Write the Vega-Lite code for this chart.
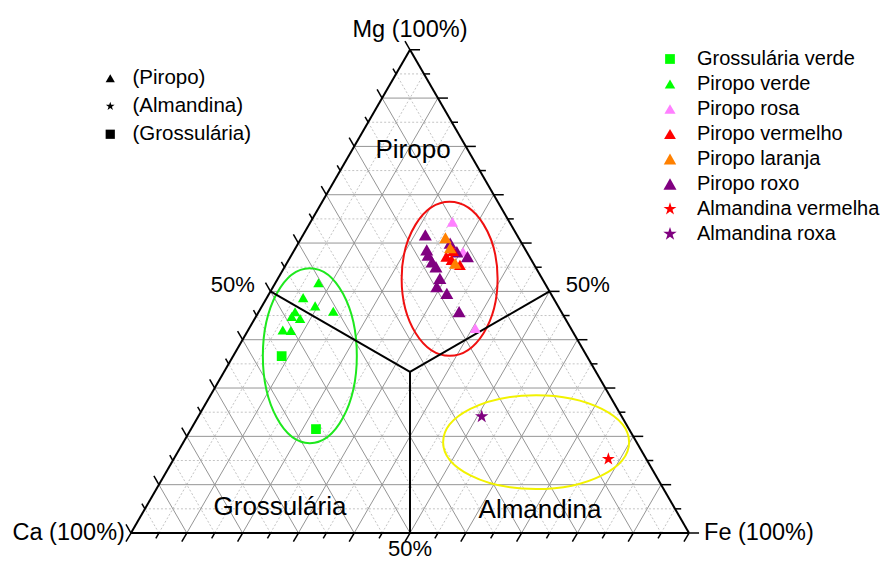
{
  "$schema": "https://vega.github.io/schema/vega-lite/v6.json",
  "width": 884,
  "height": 562,
  "autosize": {"type": "none"},
  "padding": 0,
  "background": "white",
  "config": {
    "view": {"stroke": null},
    "font": "Liberation Sans",
    "axis": {"disable": true}
  },
  "datasets": {
    "grade": [
      {"c": "Mg", "v": 0}, {"c": "Mg", "v": 5}, {"c": "Mg", "v": 10}, {"c": "Mg", "v": 15}, {"c": "Mg", "v": 20}, {"c": "Mg", "v": 25}, {"c": "Mg", "v": 30}, {"c": "Mg", "v": 35}, {"c": "Mg", "v": 40}, {"c": "Mg", "v": 45}, {"c": "Mg", "v": 50}, {"c": "Mg", "v": 55}, {"c": "Mg", "v": 60}, {"c": "Mg", "v": 65}, {"c": "Mg", "v": 70}, {"c": "Mg", "v": 75}, {"c": "Mg", "v": 80}, {"c": "Mg", "v": 85}, {"c": "Mg", "v": 90}, {"c": "Mg", "v": 95}, {"c": "Mg", "v": 100},
      {"c": "Fe", "v": 0}, {"c": "Fe", "v": 5}, {"c": "Fe", "v": 10}, {"c": "Fe", "v": 15}, {"c": "Fe", "v": 20}, {"c": "Fe", "v": 25}, {"c": "Fe", "v": 30}, {"c": "Fe", "v": 35}, {"c": "Fe", "v": 40}, {"c": "Fe", "v": 45}, {"c": "Fe", "v": 50}, {"c": "Fe", "v": 55}, {"c": "Fe", "v": 60}, {"c": "Fe", "v": 65}, {"c": "Fe", "v": 70}, {"c": "Fe", "v": 75}, {"c": "Fe", "v": 80}, {"c": "Fe", "v": 85}, {"c": "Fe", "v": 90}, {"c": "Fe", "v": 95}, {"c": "Fe", "v": 100},
      {"c": "Ca", "v": 0}, {"c": "Ca", "v": 5}, {"c": "Ca", "v": 10}, {"c": "Ca", "v": 15}, {"c": "Ca", "v": 20}, {"c": "Ca", "v": 25}, {"c": "Ca", "v": 30}, {"c": "Ca", "v": 35}, {"c": "Ca", "v": 40}, {"c": "Ca", "v": 45}, {"c": "Ca", "v": 50}, {"c": "Ca", "v": 55}, {"c": "Ca", "v": 60}, {"c": "Ca", "v": 65}, {"c": "Ca", "v": 70}, {"c": "Ca", "v": 75}, {"c": "Ca", "v": 80}, {"c": "Ca", "v": 85}, {"c": "Ca", "v": 90}, {"c": "Ca", "v": 95}, {"c": "Ca", "v": 100}
    ],
    "limites": [
      {"Mg1": 50, "Fe1": 0, "Mg2": 33.333, "Fe2": 33.333},
      {"Mg1": 50, "Fe1": 50, "Mg2": 33.333, "Fe2": 33.333},
      {"Mg1": 0, "Fe1": 50, "Mg2": 33.333, "Fe2": 33.333}
    ],
    "campos": [
      {"grupo": "Grossulária", "Mg": 36.7, "Fe": 13.7},
      {"grupo": "Piropo", "Mg": 52.6, "Fe": 30.8},
      {"grupo": "Almandina", "Mg": 18.8, "Fe": 63.2}
    ],
    "amostras": [
      {"serie": "Piropo verde", "tipo": "(Piropo)", "Mg": 51.8, "Fe": 7.7, "Ca": 40.5},
      {"serie": "Piropo verde", "tipo": "(Piropo)", "Mg": 48.7, "Fe": 6.5, "Ca": 44.8},
      {"serie": "Piropo verde", "tipo": "(Piropo)", "Mg": 47.0, "Fe": 9.5, "Ca": 43.5},
      {"serie": "Piropo verde", "tipo": "(Piropo)", "Mg": 45.9, "Fe": 13.3, "Ca": 40.8},
      {"serie": "Piropo verde", "tipo": "(Piropo)", "Mg": 45.8, "Fe": 6.5, "Ca": 47.7},
      {"serie": "Piropo verde", "tipo": "(Piropo)", "Mg": 44.4, "Fe": 8.1, "Ca": 47.5},
      {"serie": "Piropo verde", "tipo": "(Piropo)", "Mg": 44.8, "Fe": 6.4, "Ca": 48.8},
      {"serie": "Piropo verde", "tipo": "(Piropo)", "Mg": 42.0, "Fe": 6.2, "Ca": 51.8},
      {"serie": "Piropo verde", "tipo": "(Piropo)", "Mg": 41.9, "Fe": 7.7, "Ca": 50.4},
      {"serie": "Piropo rosa", "tipo": "(Piropo)", "Mg": 64.4, "Fe": 25.4, "Ca": 10.2},
      {"serie": "Piropo rosa", "tipo": "(Piropo)", "Mg": 58.2, "Fe": 30.4, "Ca": 11.4},
      {"serie": "Piropo rosa", "tipo": "(Piropo)", "Mg": 42.4, "Fe": 40.5, "Ca": 17.1},
      {"serie": "Piropo roxo", "tipo": "(Piropo)", "Mg": 61.7, "Fe": 21.9, "Ca": 16.4},
      {"serie": "Piropo roxo", "tipo": "(Piropo)", "Mg": 58.6, "Fe": 23.7, "Ca": 17.7},
      {"serie": "Piropo roxo", "tipo": "(Piropo)", "Mg": 57.5, "Fe": 24.5, "Ca": 18.0},
      {"serie": "Piropo roxo", "tipo": "(Piropo)", "Mg": 58.2, "Fe": 29.3, "Ca": 12.5},
      {"serie": "Piropo roxo", "tipo": "(Piropo)", "Mg": 57.2, "Fe": 31.7, "Ca": 11.1},
      {"serie": "Piropo roxo", "tipo": "(Piropo)", "Mg": 55.1, "Fe": 27.1, "Ca": 17.8},
      {"serie": "Piropo roxo", "tipo": "(Piropo)", "Mg": 52.7, "Fe": 29.0, "Ca": 18.3},
      {"serie": "Piropo roxo", "tipo": "(Piropo)", "Mg": 51.0, "Fe": 29.3, "Ca": 19.7},
      {"serie": "Piropo roxo", "tipo": "(Piropo)", "Mg": 49.6, "Fe": 31.8, "Ca": 18.6},
      {"serie": "Piropo roxo", "tipo": "(Piropo)", "Mg": 45.8, "Fe": 35.9, "Ca": 18.3},
      {"serie": "Piropo roxo", "tipo": "(Piropo)", "Mg": 60.0, "Fe": 27.2, "Ca": 12.8},
      {"serie": "Piropo roxo", "tipo": "(Piropo)", "Mg": 56.1, "Fe": 25.9, "Ca": 18.0},
      {"serie": "Piropo vermelho", "tipo": "(Piropo)", "Mg": 57.2, "Fe": 27.9, "Ca": 14.9},
      {"serie": "Piropo vermelho", "tipo": "(Piropo)", "Mg": 56.5, "Fe": 29.2, "Ca": 14.3},
      {"serie": "Piropo vermelho", "tipo": "(Piropo)", "Mg": 55.5, "Fe": 31.2, "Ca": 13.3},
      {"serie": "Piropo vermelho", "tipo": "(Piropo)", "Mg": 58.4, "Fe": 28.5, "Ca": 13.1},
      {"serie": "Piropo laranja", "tipo": "(Piropo)", "Mg": 61.1, "Fe": 25.8, "Ca": 13.1},
      {"serie": "Piropo laranja", "tipo": "(Piropo)", "Mg": 55.8, "Fe": 30.2, "Ca": 14.0},
      {"serie": "Piropo laranja", "tipo": "(Piropo)", "Mg": 59.0, "Fe": 27.7, "Ca": 13.3},
      {"serie": "Almandina vermelha", "tipo": "(Almandina)", "Mg": 15.3, "Fe": 77.9, "Ca": 6.8},
      {"serie": "Almandina roxa", "tipo": "(Almandina)", "Mg": 24.1, "Fe": 50.8, "Ca": 25.1},
      {"serie": "Grossulária verde", "tipo": "(Grossulária)", "Mg": 36.6, "Fe": 8.7, "Ca": 54.7},
      {"serie": "Grossulária verde", "tipo": "(Grossulária)", "Mg": 21.5, "Fe": 22.4, "Ca": 56.1}
    ],
    "rotulos": [
      {"papel": "topo", "texto": "Mg (100%)", "Mg": 104.1, "Fe": -2.05},
      {"papel": "esq", "texto": "Ca (100%)", "Mg": 0, "Fe": -1.1},
      {"papel": "dir", "texto": "Fe (100%)", "Mg": 0, "Fe": 102.7},
      {"papel": "meio", "texto": "50%", "Mg": 51.3, "Fe": -7.4},
      {"papel": "meio", "texto": "50%", "Mg": 51.3, "Fe": 56.2},
      {"papel": "meio", "texto": "50%", "Mg": -3.3, "Fe": 51.65}
    ],
    "regioes": [
      {"texto": "Piropo", "Mg": 79.3, "Fe": 10.9},
      {"texto": "Grossulária", "Mg": 5.4, "Fe": 24.0},
      {"texto": "Almandina", "Mg": 4.8, "Fe": 70.9}
    ]
  },
  "layer": [
    {
      "data": {"name": "grade"},
      "transform": [
        {"filter": "datum.v > 0 && datum.v < 100 && datum.v % 10 != 0"},
        {"calculate": "datum.c == 'Mg' ? datum.v / 2 : datum.c == 'Fe' ? datum.v : 100 - datum.v", "as": "x1"},
        {"calculate": "datum.c == 'Mg' ? datum.v * 0.8660254 : 0", "as": "y1"},
        {"calculate": "datum.c == 'Mg' ? 100 - datum.v / 2 : datum.c == 'Fe' ? 50 + datum.v / 2 : (100 - datum.v) / 2", "as": "x2"},
        {"calculate": "datum.c == 'Mg' ? datum.v * 0.8660254 : (100 - datum.v) * 0.8660254", "as": "y2"}
      ],
      "mark": {"type": "rule", "color": "#c4c4c4", "strokeWidth": 1, "strokeDash": [2, 2]},
      "encoding": {
        "x": {"field": "x1", "type": "quantitative", "scale": {"domain": [-23.477, 134.946], "nice": false, "zero": false}},
        "y": {"field": "y1", "type": "quantitative", "scale": {"domain": [-5.197, 95.52], "nice": false, "zero": false}},
        "x2": {"field": "x2"},
        "y2": {"field": "y2"}
      }
    },
    {
      "data": {"name": "grade"},
      "transform": [
        {"filter": "datum.v > 0 && datum.v < 100 && datum.v % 10 == 0"},
        {"calculate": "datum.c == 'Mg' ? datum.v / 2 : datum.c == 'Fe' ? datum.v : 100 - datum.v", "as": "x1"},
        {"calculate": "datum.c == 'Mg' ? datum.v * 0.8660254 : 0", "as": "y1"},
        {"calculate": "datum.c == 'Mg' ? 100 - datum.v / 2 : datum.c == 'Fe' ? 50 + datum.v / 2 : (100 - datum.v) / 2", "as": "x2"},
        {"calculate": "datum.c == 'Mg' ? datum.v * 0.8660254 : (100 - datum.v) * 0.8660254", "as": "y2"}
      ],
      "mark": {"type": "rule", "color": "#959595", "strokeWidth": 1},
      "encoding": {
        "x": {"field": "x1", "type": "quantitative", "scale": {"domain": [-23.477, 134.946], "nice": false, "zero": false}},
        "y": {"field": "y1", "type": "quantitative", "scale": {"domain": [-5.197, 95.52], "nice": false, "zero": false}},
        "x2": {"field": "x2"},
        "y2": {"field": "y2"}
      }
    },
    {
      "data": {"name": "campos"},
      "transform": [
        {"filter": "datum.grupo == 'Grossulária'"},
        {"calculate": "datum.Fe + datum.Mg / 2", "as": "x"},
        {"calculate": "datum.Mg * 0.8660254", "as": "y"}
      ],
      "mark": {"type": "point", "shape": "M0,-1A0.537,1,0,1,1,0,1A0.537,1,0,1,1,0,-1Z", "size": 30625, "filled": false, "stroke": "#1ee81e", "strokeWidth": 2, "opacity": 1},
      "encoding": {
        "x": {"field": "x", "type": "quantitative", "scale": {"domain": [-23.477, 134.946], "nice": false, "zero": false}},
        "y": {"field": "y", "type": "quantitative", "scale": {"domain": [-5.197, 95.52], "nice": false, "zero": false}}
      }
    },
    {
      "data": {"name": "campos"},
      "transform": [
        {"filter": "datum.grupo == 'Piropo'"},
        {"calculate": "datum.Fe + datum.Mg / 2", "as": "x"},
        {"calculate": "datum.Mg * 0.8660254", "as": "y"}
      ],
      "mark": {"type": "point", "shape": "M0,-1A0.623,1,0,1,1,0,1A0.623,1,0,1,1,0,-1Z", "size": 23716, "filled": false, "stroke": "#f01010", "strokeWidth": 2, "opacity": 1},
      "encoding": {
        "x": {"field": "x", "type": "quantitative", "scale": {"domain": [-23.477, 134.946], "nice": false, "zero": false}},
        "y": {"field": "y", "type": "quantitative", "scale": {"domain": [-5.197, 95.52], "nice": false, "zero": false}}
      }
    },
    {
      "data": {"name": "campos"},
      "transform": [
        {"filter": "datum.grupo == 'Almandina'"},
        {"calculate": "datum.Fe + datum.Mg / 2", "as": "x"},
        {"calculate": "datum.Mg * 0.8660254", "as": "y"}
      ],
      "mark": {"type": "point", "shape": "M-1,0A1,0.505,0,1,1,1,0A1,0.505,0,1,1,-1,0Z", "size": 34596, "filled": false, "stroke": "#f2f200", "strokeWidth": 2, "opacity": 1},
      "encoding": {
        "x": {"field": "x", "type": "quantitative", "scale": {"domain": [-23.477, 134.946], "nice": false, "zero": false}},
        "y": {"field": "y", "type": "quantitative", "scale": {"domain": [-5.197, 95.52], "nice": false, "zero": false}}
      }
    },
    {
      "data": {"name": "grade"},
      "transform": [
        {"filter": "datum.v == 0"},
        {"calculate": "datum.c == 'Mg' ? 0 : datum.c == 'Fe' ? 0 : 100", "as": "x1"},
        {"calculate": "0", "as": "y1"},
        {"calculate": "datum.c == 'Mg' ? 100 : 50", "as": "x2"},
        {"calculate": "datum.c == 'Mg' ? 0 : 86.60254", "as": "y2"}
      ],
      "mark": {"type": "rule", "color": "#000000", "strokeWidth": 2},
      "encoding": {
        "x": {"field": "x1", "type": "quantitative", "scale": {"domain": [-23.477, 134.946], "nice": false, "zero": false}},
        "y": {"field": "y1", "type": "quantitative", "scale": {"domain": [-5.197, 95.52], "nice": false, "zero": false}},
        "x2": {"field": "x2"},
        "y2": {"field": "y2"}
      }
    },
    {
      "data": {"name": "limites"},
      "transform": [
        {"calculate": "datum.Fe1 + datum.Mg1 / 2", "as": "x1"},
        {"calculate": "datum.Mg1 * 0.8660254", "as": "y1"},
        {"calculate": "datum.Fe2 + datum.Mg2 / 2", "as": "x2"},
        {"calculate": "datum.Mg2 * 0.8660254", "as": "y2"}
      ],
      "mark": {"type": "rule", "color": "#000000", "strokeWidth": 2},
      "encoding": {
        "x": {"field": "x1", "type": "quantitative", "scale": {"domain": [-23.477, 134.946], "nice": false, "zero": false}},
        "y": {"field": "y1", "type": "quantitative", "scale": {"domain": [-5.197, 95.52], "nice": false, "zero": false}},
        "x2": {"field": "x2"},
        "y2": {"field": "y2"}
      }
    },
    {
      "data": {"name": "grade"},
      "transform": [
        {"calculate": "datum.v % 10 == 0 ? 1.8 : 1.1", "as": "t"},
        {"calculate": "datum.c == 'Fe' ? datum.v : datum.c == 'Mg' ? 100 - datum.v / 2 : (100 - datum.v) / 2", "as": "x1"},
        {"calculate": "datum.c == 'Fe' ? 0 : datum.c == 'Mg' ? datum.v * 0.8660254 : (100 - datum.v) * 0.8660254", "as": "y1"},
        {"calculate": "datum.c == 'Mg' ? datum.x1 + datum.t : datum.x1 - datum.t / 2", "as": "x2"},
        {"calculate": "datum.c == 'Mg' ? datum.y1 : datum.c == 'Fe' ? datum.y1 - datum.t * 0.8660254 : datum.y1 + datum.t * 0.8660254", "as": "y2"}
      ],
      "mark": {"type": "rule", "color": "#000000", "strokeWidth": 1.5},
      "encoding": {
        "x": {"field": "x1", "type": "quantitative", "scale": {"domain": [-23.477, 134.946], "nice": false, "zero": false}},
        "y": {"field": "y1", "type": "quantitative", "scale": {"domain": [-5.197, 95.52], "nice": false, "zero": false}},
        "x2": {"field": "x2"},
        "y2": {"field": "y2"}
      }
    },
    {
      "data": {"name": "amostras"},
      "transform": [
        {"calculate": "datum.Fe + datum.Mg / 2", "as": "x"},
        {"calculate": "datum.Mg * 0.8660254", "as": "y"}
      ],
      "mark": {"type": "point", "filled": true, "color": "#000000", "size": 25, "opacity": 1},
      "encoding": {
        "x": {"field": "x", "type": "quantitative", "scale": {"domain": [-23.477, 134.946], "nice": false, "zero": false}},
        "y": {"field": "y", "type": "quantitative", "scale": {"domain": [-5.197, 95.52], "nice": false, "zero": false}},
        "shape": {
          "field": "tipo",
          "type": "nominal",
          "scale": {"domain": ["(Piropo)", "(Almandina)", "(Grossulária)"], "range": ["triangle-up", "M0,-1L0.225,-0.309L0.951,-0.309L0.363,0.118L0.588,0.809L0,0.382L-0.588,0.809L-0.363,0.118L-0.951,-0.309L-0.225,-0.309Z", "square"]},
          "legend": {"title": null, "orient": "none", "legendX": 100, "legendY": 68, "labelFontSize": 20.5, "labelFont": "Liberation Sans", "labelColor": "#000000", "labelLimit": 300, "symbolSize": 85, "symbolFillColor": "#000000", "symbolStrokeWidth": 0, "rowPadding": 7, "labelOffset": 12}
        }
      }
    },
    {
      "data": {"name": "amostras"},
      "transform": [
        {"calculate": "datum.Fe + datum.Mg / 2", "as": "x"},
        {"calculate": "datum.Mg * 0.8660254", "as": "y"}
      ],
      "mark": {"type": "point", "filled": true, "opacity": 1},
      "encoding": {
        "x": {"field": "x", "type": "quantitative", "scale": {"domain": [-23.477, 134.946], "nice": false, "zero": false}},
        "y": {"field": "y", "type": "quantitative", "scale": {"domain": [-5.197, 95.52], "nice": false, "zero": false}},
        "color": {
          "field": "serie",
          "type": "nominal",
          "scale": {
            "domain": ["Grossulária verde", "Piropo verde", "Piropo rosa", "Piropo vermelho", "Piropo laranja", "Piropo roxo", "Almandina vermelha", "Almandina roxa"],
            "range": ["#00ff00", "#00ff00", "#ff80ff", "#ff0000", "#ff8000", "#800080", "#ff0000", "#800080"]
          },
          "legend": {"title": null, "orient": "none", "legendX": 660, "legendY": 49, "labelFontSize": 20, "labelFont": "Liberation Sans", "labelColor": "#000000", "labelLimit": 300, "symbolSize": 150, "symbolStrokeWidth": 0, "rowPadding": 5, "labelOffset": 17}
        },
        "shape": {
          "field": "serie",
          "type": "nominal",
          "scale": {
            "domain": ["Grossulária verde", "Piropo verde", "Piropo rosa", "Piropo vermelho", "Piropo laranja", "Piropo roxo", "Almandina vermelha", "Almandina roxa"],
            "range": ["square", "triangle-up", "triangle-up", "triangle-up", "triangle-up", "triangle-up", "M0,-1L0.225,-0.309L0.951,-0.309L0.363,0.118L0.588,0.809L0,0.382L-0.588,0.809L-0.363,0.118L-0.951,-0.309L-0.225,-0.309Z", "M0,-1L0.225,-0.309L0.951,-0.309L0.363,0.118L0.588,0.809L0,0.382L-0.588,0.809L-0.363,0.118L-0.951,-0.309L-0.225,-0.309Z"]
          },
          "legend": {"title": null, "orient": "none", "legendX": 660, "legendY": 49, "labelFontSize": 20, "labelFont": "Liberation Sans", "labelColor": "#000000", "labelLimit": 300, "symbolSize": 150, "symbolStrokeWidth": 0, "rowPadding": 5, "labelOffset": 17}
        },
        "size": {
          "field": "serie",
          "type": "nominal",
          "scale": {
            "domain": ["Grossulária verde", "Piropo verde", "Piropo rosa", "Piropo vermelho", "Piropo laranja", "Piropo roxo", "Almandina vermelha", "Almandina roxa"],
            "range": [95, 200, 200, 200, 200, 200, 150, 150]
          },
          "legend": null
        }
      }
    },
    {
      "data": {"name": "rotulos"},
      "transform": [
        {"filter": "datum.papel == 'topo'"},
        {"calculate": "datum.Fe + datum.Mg / 2", "as": "x"},
        {"calculate": "datum.Mg * 0.8660254", "as": "y"}
      ],
      "mark": {"type": "text", "fontSize": 23.5, "align": "center", "baseline": "middle", "color": "#000000"},
      "encoding": {
        "x": {"field": "x", "type": "quantitative", "scale": {"domain": [-23.477, 134.946], "nice": false, "zero": false}},
        "y": {"field": "y", "type": "quantitative", "scale": {"domain": [-5.197, 95.52], "nice": false, "zero": false}},
        "text": {"field": "texto"}
      }
    },
    {
      "data": {"name": "rotulos"},
      "transform": [
        {"filter": "datum.papel == 'esq'"},
        {"calculate": "datum.Fe + datum.Mg / 2", "as": "x"},
        {"calculate": "datum.Mg * 0.8660254", "as": "y"}
      ],
      "mark": {"type": "text", "fontSize": 23.5, "align": "right", "baseline": "middle", "color": "#000000"},
      "encoding": {
        "x": {"field": "x", "type": "quantitative", "scale": {"domain": [-23.477, 134.946], "nice": false, "zero": false}},
        "y": {"field": "y", "type": "quantitative", "scale": {"domain": [-5.197, 95.52], "nice": false, "zero": false}},
        "text": {"field": "texto"}
      }
    },
    {
      "data": {"name": "rotulos"},
      "transform": [
        {"filter": "datum.papel == 'dir'"},
        {"calculate": "datum.Fe + datum.Mg / 2", "as": "x"},
        {"calculate": "datum.Mg * 0.8660254", "as": "y"}
      ],
      "mark": {"type": "text", "fontSize": 23.5, "align": "left", "baseline": "middle", "color": "#000000"},
      "encoding": {
        "x": {"field": "x", "type": "quantitative", "scale": {"domain": [-23.477, 134.946], "nice": false, "zero": false}},
        "y": {"field": "y", "type": "quantitative", "scale": {"domain": [-5.197, 95.52], "nice": false, "zero": false}},
        "text": {"field": "texto"}
      }
    },
    {
      "data": {"name": "rotulos"},
      "transform": [
        {"filter": "datum.papel == 'meio'"},
        {"calculate": "datum.Fe + datum.Mg / 2", "as": "x"},
        {"calculate": "datum.Mg * 0.8660254", "as": "y"}
      ],
      "mark": {"type": "text", "fontSize": 22, "align": "center", "baseline": "middle", "color": "#000000"},
      "encoding": {
        "x": {"field": "x", "type": "quantitative", "scale": {"domain": [-23.477, 134.946], "nice": false, "zero": false}},
        "y": {"field": "y", "type": "quantitative", "scale": {"domain": [-5.197, 95.52], "nice": false, "zero": false}},
        "text": {"field": "texto"}
      }
    },
    {
      "data": {"name": "regioes"},
      "transform": [
        {"calculate": "datum.Fe + datum.Mg / 2", "as": "x"},
        {"calculate": "datum.Mg * 0.8660254", "as": "y"}
      ],
      "mark": {"type": "text", "fontSize": 26, "align": "center", "baseline": "middle", "color": "#000000"},
      "encoding": {
        "x": {"field": "x", "type": "quantitative", "scale": {"domain": [-23.477, 134.946], "nice": false, "zero": false}},
        "y": {"field": "y", "type": "quantitative", "scale": {"domain": [-5.197, 95.52], "nice": false, "zero": false}},
        "text": {"field": "texto"}
      }
    }
  ],
  "resolve": {"scale": {"shape": "independent", "color": "independent", "size": "independent"}}
}
